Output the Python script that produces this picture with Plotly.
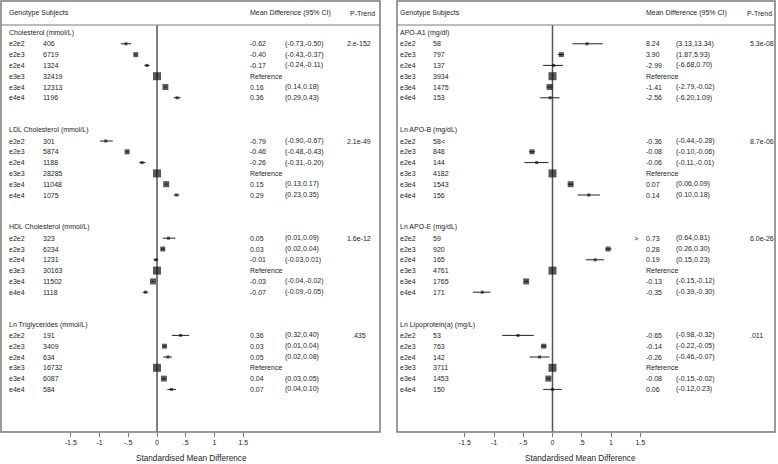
import plotly.graph_objects as go

# ---------------- DATA ----------------
genotypes = ["e2e2", "e2e3", "e2e4", "e3e3", "e3e4", "e4e4"]

# Left panel
left_groups = ["Cholesterol (mmol/L)", "LDL Cholesterol (mmol/L)",
               "HDL Cholesterol (mmol/L)", "Ln Triglycerides (mmol/L)"]
left_subjects = [
    [406, 6719, 1324, 32419, 12313, 1196],
    [301, 5874, 1188, 28285, 11048, 1075],
    [323, 6234, 1231, 30163, 11502, 1118],
    [191, 3409, 634, 16732, 6087, 584],
]
left_md = [
    [-0.62, -0.40, -0.17, None, 0.16, 0.36],
    [-0.79, -0.46, -0.26, None, 0.15, 0.29],
    [0.05, 0.03, -0.01, None, -0.03, -0.07],
    [0.36, 0.03, 0.05, None, 0.04, 0.07],
]
left_md_lo = [
    [-0.73, -0.43, -0.24, None, 0.14, 0.29],
    [-0.90, -0.48, -0.31, None, 0.13, 0.23],
    [0.01, 0.02, -0.03, None, -0.04, -0.09],
    [0.32, 0.01, 0.02, None, 0.03, 0.04],
]
left_md_hi = [
    [-0.50, -0.37, -0.11, None, 0.18, 0.43],
    [-0.67, -0.43, -0.20, None, 0.17, 0.35],
    [0.09, 0.04, 0.01, None, -0.02, -0.05],
    [0.40, 0.04, 0.08, None, 0.05, 0.10],
]
left_p = ["2.e-152", "2.1e-49", "1.6e-12", ".435"]
left_smd = [
    [-0.54, -0.37, -0.175, 0.0, 0.146, 0.35],
    [-0.89, -0.52, -0.26, 0.0, 0.16, 0.34],
    [0.20, 0.10, -0.02, 0.0, -0.07, -0.20],
    [0.41, 0.13, 0.19, 0.0, 0.12, 0.25],
]
left_smd_lo = [
    [-0.63, -0.39, -0.22, 0.0, 0.13, 0.29],
    [-0.99, -0.54, -0.31, 0.0, 0.14, 0.29],
    [0.10, 0.07, -0.06, 0.0, -0.09, -0.25],
    [0.26, 0.10, 0.11, 0.0, 0.09, 0.18],
]
left_smd_hi = [
    [-0.45, -0.35, -0.13, 0.0, 0.16, 0.41],
    [-0.77, -0.49, -0.20, 0.0, 0.18, 0.39],
    [0.32, 0.13, 0.02, 0.0, -0.05, -0.15],
    [0.56, 0.16, 0.26, 0.0, 0.15, 0.33],
]

# Right panel
right_groups = ["APO-A1 (mg/dl)", "Ln APO-B (mg/dL)",
                "Ln APO-E (mg/dL)", "Ln Lipoprotein(a) (mg/L)"]
right_subjects = [
    [58, 797, 137, 3934, 1475, 153],
    [58, 848, 144, 4182, 1543, 156],
    [59, 920, 165, 4761, 1765, 171],
    [53, 763, 142, 3711, 1453, 150],
]
right_md = [
    [8.24, 3.90, -2.99, None, -1.41, -2.56],
    [-0.36, -0.08, -0.06, None, 0.07, 0.14],
    [0.73, 0.28, 0.19, None, -0.13, -0.35],
    [-0.65, -0.14, -0.26, None, -0.08, 0.06],
]
right_md_lo = [
    [3.13, 1.87, -6.68, None, -2.79, -6.20],
    [-0.44, -0.10, -0.11, None, 0.06, 0.10],
    [0.64, 0.26, 0.15, None, -0.15, -0.39],
    [-0.98, -0.22, -0.46, None, -0.15, -0.12],
]
right_md_hi = [
    [13.34, 5.93, 0.70, None, -0.02, 1.09],
    [-0.28, -0.06, -0.01, None, 0.09, 0.18],
    [0.81, 0.30, 0.23, None, -0.12, -0.30],
    [-0.32, -0.05, -0.07, None, -0.02, 0.23],
]
right_p = ["5.3e-08", "8.7e-06", "6.0e-26", ".011"]
# None = off the displayed scale (shown as an arrow)
right_smd = [
    [0.59, 0.15, 0.02, 0.0, -0.05, -0.04],
    [None, -0.35, -0.27, 0.0, 0.31, 0.62],
    [None, 0.95, 0.73, 0.0, -0.45, -1.20],
    [-0.59, -0.15, -0.22, 0.0, -0.07, 0.0],
]
right_smd_lo = [
    [0.34, 0.09, -0.16, 0.0, -0.10, -0.21],
    [None, -0.40, -0.48, 0.0, 0.27, 0.43],
    [None, 0.90, 0.57, 0.0, -0.48, -1.36],
    [-0.86, -0.20, -0.39, 0.0, -0.11, -0.16],
]
right_smd_hi = [
    [0.86, 0.20, 0.18, 0.0, 0.00, 0.12],
    [None, -0.30, -0.07, 0.0, 0.35, 0.81],
    [None, 1.01, 0.88, 0.0, -0.42, -1.06],
    [-0.32, -0.10, -0.05, 0.0, -0.03, 0.16],
]
# off-scale markers: (group, row, direction)
right_offscale = [(1, 0, "<"), (2, 0, ">")]
display_limits = (-1.87, 1.43)

tick_vals = [-1.5, -1, -0.5, 0, 0.5, 1, 1.5]
tick_text = ["-1.5", "-1", "-.5", "0", ".5", "1", "1.5"]

# ---------------- LAYOUT HELPERS ----------------
W, H = 778, 464
def px_x(p):
    return p / W
def px_y(p):
    return 1 - p / H

ROW0, ROWH = 33.0, 10.8  # px of first group header, row height
BOX_TOP, BOX_BOT, SEP = 1.0, 432.0, 25.0
def row_from_px(p):
    return (p - ROW0) / ROWH

FONT = "Liberation Sans, Arial, Helvetica, sans-serif"
TXT = "#1e1e1e"
GRAY = "#7a7a7a"
FS = 7.0

panels = [
    dict(groups=left_groups, subj=left_subjects, md=left_md, lo=left_md_lo, hi=left_md_hi,
         p=left_p, smd=left_smd, slo=left_smd_lo, shi=left_smd_hi,
         box=(1, 380), zero=157.0, scale=57.5, gx=8, sx=42, mx=249, cx=284, ptx=359, pta="center",
         ptx_head=349, xaxis="x", title_x=191),
    dict(groups=right_groups, subj=right_subjects, md=right_md, lo=right_md_lo, hi=right_md_hi,
         p=right_p, smd=right_smd, slo=right_smd_lo, shi=right_smd_hi,
         box=(397, 775), zero=552.5, scale=58.5, gx=399, sx=432, mx=645, cx=675, ptx=749, pta="left",
         ptx_head=746, xaxis="x2", title_x=580),
]

fig = go.Figure()
annotations = []
shapes = []

def fmt(v):
    return f"{v:.2f}"

def add_text(x, y, text, yref="y", xanchor="left", size=FS):
    annotations.append(dict(x=x, y=y, xref="paper", yref=yref, text=text, showarrow=False,
                            xanchor=xanchor, yanchor="middle", borderpad=0,
                            font=dict(family=FONT, size=size, color=TXT)))

for pi, P in enumerate(panels):
    xs, ys, sizes, ep, em = [], [], [], [], []
    for g, gname in enumerate(P["groups"]):
        base = g * 9
        add_text(px_x(P["gx"]), base, gname)
        nmax = max(P["subj"][g])
        for i, gen in enumerate(genotypes):
            r = base + 1 + i
            add_text(px_x(P["gx"]), r, gen)
            add_text(px_x(P["sx"]), r, str(P["subj"][g][i]))
            if P["md"][g][i] is None:
                add_text(px_x(P["mx"]), r, "Reference")
            else:
                add_text(px_x(P["mx"]), r, fmt(P["md"][g][i]))
                add_text(px_x(P["cx"]), r, f"({fmt(P['lo'][g][i])},{fmt(P['hi'][g][i])})")
            if i == 0:
                add_text(px_x(P["ptx"]), r, P["p"][g], xanchor=P["pta"])
            v = P["smd"][g][i]
            if v is not None:
                xs.append(v)
                ys.append(r)
                sizes.append(max(3.0, 8.0 * (P["subj"][g][i] / nmax) ** 0.3))
                ep.append(P["shi"][g][i] - v)
                em.append(v - P["slo"][g][i])
    fig.add_trace(go.Scatter(
        x=xs, y=ys, mode="markers", xaxis=P["xaxis"], yaxis="y",
        marker=dict(symbol="square", size=sizes, color="#111111", line=dict(width=0)),
        error_x=dict(type="data", symmetric=False, array=ep, arrayminus=em,
                     width=0, thickness=1, color="#222222"),
        showlegend=False, hoverinfo="skip"))

    # headers
    add_text(px_x(P["gx"]), px_y(13), "Genotype Subjects", yref="paper")
    add_text(px_x(P["mx"]), px_y(13), "Mean Difference (95% CI)", yref="paper")
    add_text(px_x(P["ptx_head"]), px_y(13), "P-Trend", yref="paper")
    # axis title
    add_text(px_x(P["title_x"]), px_y(458), "Standardised Mean Difference",
             yref="paper", xanchor="center", size=8.2)

    # box and separator
    x0, x1 = P["box"]
    shapes.append(dict(type="rect", xref="paper", yref="paper",
                       x0=px_x(x0), x1=px_x(x1), y0=px_y(BOX_BOT), y1=px_y(BOX_TOP),
                       line=dict(color=GRAY, width=1.5), layer="above"))
    shapes.append(dict(type="line", xref="paper", yref="paper",
                       x0=px_x(x0), x1=px_x(x1), y0=px_y(SEP), y1=px_y(SEP),
                       line=dict(color=GRAY, width=1.2)))
    # zero line
    shapes.append(dict(type="line", xref=P["xaxis"], yref="paper", x0=0, x1=0,
                       y0=px_y(BOX_BOT), y1=px_y(SEP), line=dict(color="#555555", width=1.5),
                       layer="below"))

# off-scale arrows
for g, i, d in right_offscale:
    annotations.append(dict(x=display_limits[0] if d == "<" else display_limits[1],
                            y=g * 9 + 1 + i, xref="x2", yref="y", text=d, showarrow=False,
                            xanchor="center", yanchor="middle",
                            font=dict(family=FONT, size=7.5, color=TXT)))

def axis_cfg(P):
    x0, x1 = P["box"]
    return dict(domain=[px_x(x0), px_x(x1)],
                range=[(x0 - P["zero"]) / P["scale"], (x1 - P["zero"]) / P["scale"]],
                tickvals=tick_vals, ticktext=tick_text, ticks="outside", ticklen=4,
                tickwidth=1, tickcolor=GRAY, showgrid=False, zeroline=False, showline=False,
                tickfont=dict(family=FONT, size=FS, color=TXT), anchor="y", fixedrange=True)

fig.update_layout(
    width=W, height=H, margin=dict(l=0, r=0, t=0, b=0),
    paper_bgcolor="white", plot_bgcolor="white",
    xaxis=axis_cfg(panels[0]),
    xaxis2=axis_cfg(panels[1]),
    yaxis=dict(domain=[px_y(BOX_BOT), px_y(BOX_TOP)],
               range=[row_from_px(BOX_BOT), row_from_px(BOX_TOP)],
               visible=False, fixedrange=True),
    annotations=annotations, shapes=shapes,
)

fig.write_html("out.html", config={"displayModeBar": False},
               post_script="document.body.style.margin='0';document.body.style.padding='0';"
                           "document.documentElement.style.overflow='hidden';")
